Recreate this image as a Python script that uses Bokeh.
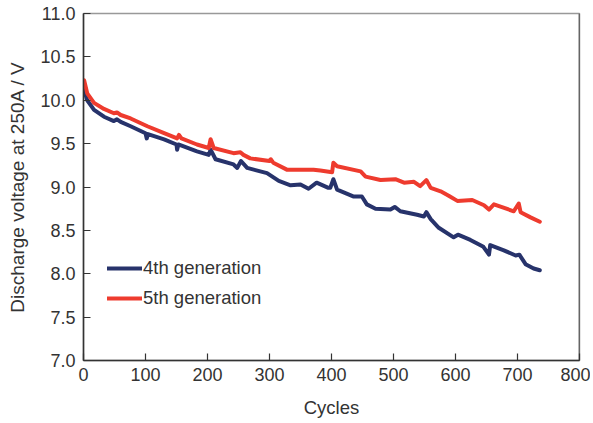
from bokeh.plotting import figure
from bokeh.models import Range1d, Legend, LegendItem, Span, FixedTicker, CustomJSTickFormatter
from bokeh.embed import file_html
from bokeh.resources import INLINE

# 5th generation
cyc5 = [1, 6, 17, 33, 49, 54, 60, 76, 103, 130, 151, 154, 158, 183, 202, 205, 210, 242, 253, 258,
        269, 300, 302, 306, 328, 350, 371, 382, 401, 403, 409, 447, 455, 479, 503, 517, 533, 543,
        553, 560, 576, 589, 603, 627, 646, 654, 662, 694, 702, 705, 721, 736]
volt5 = [10.23, 10.08, 9.97, 9.90, 9.85, 9.86, 9.83, 9.79, 9.70, 9.62, 9.56, 9.60, 9.56, 9.49, 9.45,
         9.55, 9.45, 9.39, 9.40, 9.37, 9.33, 9.30, 9.32, 9.28, 9.20, 9.20, 9.20, 9.19, 9.17, 9.28,
         9.24, 9.18, 9.12, 9.08, 9.09, 9.05, 9.06, 9.01, 9.08, 8.99, 8.95, 8.90, 8.84, 8.85, 8.79,
         8.74, 8.80, 8.72, 8.81, 8.71, 8.65, 8.60]

# 4th generation
cyc4 = [1, 6, 17, 33, 49, 54, 60, 76, 100, 102, 104, 130, 150, 151, 153, 183, 202, 205, 213, 242,
        248, 254, 264, 296, 315, 334, 350, 363, 376, 395, 398, 403, 409, 436, 449, 457, 471, 495,
        502, 511, 538, 549, 553, 560, 573, 597, 604, 624, 645, 654, 656, 678, 697, 703, 713, 726, 736]
volt4 = [10.12, 10.00, 9.89, 9.81, 9.76, 9.78, 9.75, 9.70, 9.62, 9.56, 9.61, 9.55, 9.49, 9.43, 9.49,
         9.41, 9.37, 9.43, 9.32, 9.26, 9.22, 9.30, 9.22, 9.16, 9.07, 9.02, 9.03, 8.98, 9.05, 8.99,
         8.99, 9.09, 8.97, 8.89, 8.89, 8.80, 8.75, 8.74, 8.77, 8.72, 8.68, 8.66, 8.71, 8.63, 8.53,
         8.42, 8.45, 8.39, 8.31, 8.22, 8.33, 8.27, 8.21, 8.22, 8.11, 8.06, 8.04]

x_ticks = [0, 100, 200, 300, 400, 500, 600, 700, 800]
y_ticks = [7.0, 7.5, 8.0, 8.5, 9.0, 9.5, 10.0, 10.5, 11.0]

FONT = "Liberation Sans"
TXT = "#333333"

p = figure(width=590, height=420, output_backend="svg", toolbar_location=None,
           x_range=Range1d(0, 800), y_range=Range1d(7.0, 11.0),
           min_border_left=83, min_border_right=11, min_border_top=13, min_border_bottom=58)
p.background_fill_color = "white"
p.border_fill_color = "white"
p.outline_line_color = "#999999"
p.outline_line_width = 1.5
p.grid.visible = False

p.xaxis.ticker = FixedTicker(ticks=x_ticks)
p.yaxis.ticker = FixedTicker(ticks=y_ticks)
p.yaxis.formatter = CustomJSTickFormatter(code="return tick.toFixed(1);")

for ax in (p.xaxis[0], p.yaxis[0]):
    ax.axis_line_color = "#333333"
    ax.axis_line_width = 1.5
    ax.major_tick_line_color = "#333333"
    ax.major_tick_line_width = 1.2
    ax.major_tick_in = 7
    ax.major_tick_out = 0
    ax.minor_tick_line_color = None
    ax.major_label_text_font = FONT
    ax.major_label_text_font_size = "18px"
    ax.major_label_text_color = TXT
    ax.axis_label_text_font = FONT
    ax.axis_label_text_font_size = "18.5px"
    ax.axis_label_text_font_style = "normal"
    ax.axis_label_text_color = TXT

p.xaxis.axis_label = "Cycles"
p.yaxis.axis_label = "Discharge voltage at 250A / V"
p.yaxis.axis_label_text_font_size = "19px"
p.xaxis.major_label_standoff = 7
p.xaxis.axis_label_standoff = 13
p.yaxis.major_label_standoff = 8
p.yaxis.axis_label_standoff = 9

p.add_layout(Span(location=800, dimension="height", line_color="#333333", line_width=1.5))

r4 = p.line(cyc4, volt4, line_color="#27336b", line_width=4, line_join="round", line_cap="round")
r5 = p.line(cyc5, volt5, line_color="#ee3b2e", line_width=4, line_join="round", line_cap="round")

legend = Legend(items=[LegendItem(label="4th generation", renderers=[r4]),
                       LegendItem(label="5th generation", renderers=[r5])],
                location=(24, 51), padding=0, margin=0, spacing=8,
                glyph_width=35, glyph_height=20, label_height=20, label_standoff=1,
                label_text_font=FONT, label_text_font_size="18.5px", label_text_color=TXT,
                border_line_color=None, background_fill_alpha=0)
p.add_layout(legend, "center")

open("out.html", "w").write(file_html(p, INLINE))
